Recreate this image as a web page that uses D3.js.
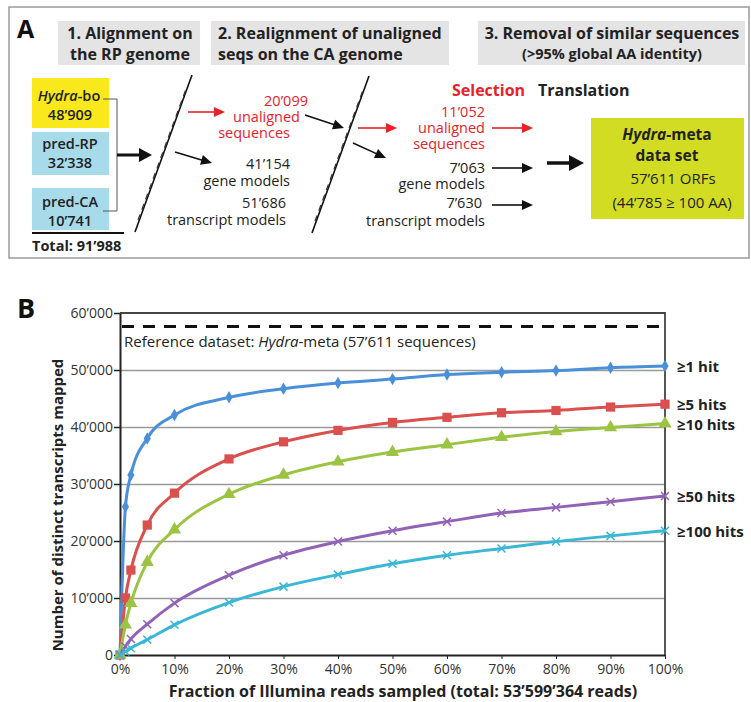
<!DOCTYPE html>
<html>
<head>
<meta charset="utf-8">
<script src="https://cdn.jsdelivr.net/npm/d3@7"></script>
<style>
body { margin: 0; background: #fff; }
svg { display: block; font-family: "Open Sans", sans-serif; }
</style>
</head>
<body>
<script>
// ---- data for panel B ----
var fractions = [0, 1, 2, 5, 10, 20, 30, 40, 50, 60, 70, 80, 90, 100];
var hits1   = [0, 26000, 31600, 38000, 42100, 45200, 46700, 47700, 48400, 49200, 49600, 49900, 50400, 50700];
var hits5   = [0, 10000, 14900, 22800, 28400, 34400, 37400, 39400, 40800, 41700, 42500, 42900, 43500, 44000];
var hits10  = [0, 5300, 9100, 16300, 22000, 28200, 31600, 33900, 35600, 36900, 38200, 39200, 39900, 40600];
var hits50  = [0, 1500, 2800, 5400, 9100, 14000, 17500, 19900, 21800, 23400, 24900, 25900, 26900, 27900];
var hits100 = [0, 600, 1200, 2700, 5300, 9200, 12000, 14100, 16000, 17500, 18700, 19900, 20900, 21800];
var seriesNames = ["≥1 hit", "≥5 hits", "≥10 hits", "≥50 hits", "≥100 hits"];
var seriesValues = [hits1, hits5, hits10, hits50, hits100];
var seriesColors = ["#4a8fd9", "#d9504e", "#9cc443", "#9163b7", "#3ab7d6"];
var seriesSymbols = ["diamond", "square", "triangle", "x", "x"];
var yTicks = [0, 10000, 20000, 30000, 40000, 50000, 60000];
var xTicks = [0, 10, 20, 30, 40, 50, 60, 70, 80, 90, 100];
var referenceCount = 57611;

var width = 751, height = 702;
var svg = d3.select("body").append("svg")
    .attr("width", width)
    .attr("height", height);

function arrow(g, x1, y1, x2, y2, color, w, hl, hw) {
    var a = Math.atan2(y2 - y1, x2 - x1);
    var bx = x2 - hl * Math.cos(a), by = y2 - hl * Math.sin(a);
    g.append("line")
        .attr("x1", x1).attr("y1", y1).attr("x2", bx + Math.cos(a)).attr("y2", by + Math.sin(a))
        .attr("stroke", color).attr("stroke-width", w);
    g.append("path")
        .attr("d", "M" + x2 + "," + y2 +
            "L" + (bx + hw * Math.sin(a)) + "," + (by - hw * Math.cos(a)) +
            "L" + (bx - hw * Math.sin(a)) + "," + (by + hw * Math.cos(a)) + "Z")
        .attr("fill", color);
}

function label(g, x, y, txt, opts) {
    opts = opts || {};
    return g.append("text")
        .attr("x", x).attr("y", y)
        .attr("text-anchor", opts.anchor || "start")
        .attr("font-size", opts.size || 14.5)
        .attr("font-weight", opts.weight || "normal")
        .attr("fill", opts.color || "#222")
        .text(txt);
}

// ================= PANEL A =================
var A = svg.append("g");
A.append("rect").attr("x", 9).attr("y", 7).attr("width", 740).attr("height", 251)
    .attr("fill", "none").attr("stroke", "#9a9a9a").attr("stroke-width", 1.5);
label(A, 17, 38, "A", {size: 25, weight: "bold", color: "#111"});

// header boxes
A.append("rect").attr("x", 58).attr("y", 21).attr("width", 142).attr("height", 44).attr("fill", "#e4e4e4");
A.append("rect").attr("x", 211).attr("y", 21).attr("width", 238).attr("height", 44).attr("fill", "#e4e4e4");
A.append("rect").attr("x", 478).attr("y", 21).attr("width", 267).attr("height", 44).attr("fill", "#e4e4e4");
label(A, 130, 39, "1. Alignment on", {anchor: "middle", weight: "bold", size: 16});
label(A, 130, 60, "the RP genome", {anchor: "middle", weight: "bold", size: 16});
label(A, 218, 39, "2. Realignment of unaligned", {weight: "bold", size: 16});
label(A, 218, 60, "seqs on the CA genome", {weight: "bold", size: 16});
label(A, 612, 39, "3. Removal of similar sequences", {anchor: "middle", weight: "bold", size: 16});
label(A, 612, 59, "(>95% global AA identity)", {anchor: "middle", weight: "bold", size: 14.5});

// input boxes
A.append("rect").attr("x", 32).attr("y", 78).attr("width", 77).attr("height", 50).attr("fill", "#f8e81c");
A.append("rect").attr("x", 32).attr("y", 132).attr("width", 77).attr("height", 43).attr("fill", "#a7dbea");
A.append("rect").attr("x", 32).attr("y", 188).attr("width", 77).attr("height", 42).attr("fill", "#a7dbea");
var hb = label(A, 69, 101, "", {anchor: "middle", weight: 600, size: 14.5});
hb.append("tspan").attr("font-style", "italic").text("Hydra");
hb.append("tspan").text("-bo");
label(A, 70, 120, "48’909", {anchor: "middle", weight: 600, size: 14.5});
label(A, 70, 149, "pred-RP", {anchor: "middle", weight: 600, size: 14.5});
label(A, 70, 168, "32’338", {anchor: "middle", weight: 600, size: 14.5});
label(A, 70, 207, "pred-CA", {anchor: "middle", weight: 600, size: 14.5});
label(A, 70, 226, "10’741", {anchor: "middle", weight: 600, size: 14.5});
A.append("path").attr("d", "M103,99H117V211H103")
    .attr("fill", "none").attr("stroke", "#555").attr("stroke-width", 1);
A.append("line").attr("x1", 32).attr("x2", 124).attr("y1", 233).attr("y2", 233)
    .attr("stroke", "#111").attr("stroke-width", 2);
label(A, 32, 251, "Total: 91’988", {weight: "bold", size: 14.5});
arrow(A, 117, 155, 152, 155, "#111", 3, 13, 7);

// genome lines
function genome(x1, y1, x2, y2) {
    A.append("line").attr("x1", x1).attr("y1", y1).attr("x2", x2).attr("y2", y2)
        .attr("stroke", "#111").attr("stroke-width", 1.6);
    A.append("line").attr("x1", x1 + 6).attr("y1", y1 - 12).attr("x2", x2 - 3).attr("y2", y2 + 14)
        .attr("transform", "translate(-3,0)")
        .attr("stroke", "#333").attr("stroke-width", 1.2).attr("stroke-dasharray", "6,5");
}
genome(135, 232, 192, 75);
genome(312, 233, 369, 76);

// step 1 outputs
arrow(A, 188, 112, 225, 112, "#e8212a", 1.6, 11, 5);
label(A, 308, 106, "20’099", {anchor: "end", color: "#e8212a"});
label(A, 300, 122, "unaligned", {anchor: "end", color: "#e8212a"});
label(A, 290, 138, "sequences", {anchor: "end", color: "#e8212a"});
arrow(A, 175, 152, 212, 163, "#111", 1.6, 11, 5);
label(A, 290, 169, "41’154", {anchor: "end"});
label(A, 290, 186, "gene models", {anchor: "end"});
label(A, 286, 208, "51’686", {anchor: "end"});
label(A, 286, 225, "transcript models", {anchor: "end"});
arrow(A, 305, 115, 344, 128, "#111", 1.6, 11, 5);

// step 2 outputs
arrow(A, 358, 128, 397, 128, "#e8212a", 1.6, 11, 5);
arrow(A, 353, 143, 386, 158, "#111", 1.6, 11, 5);
label(A, 452, 96, "Selection", {weight: "bold", color: "#e8212a", size: 16});
label(A, 538, 96, "Translation", {weight: "bold", size: 16});
label(A, 485, 117, "11’052", {anchor: "end", color: "#e8212a"});
label(A, 485, 133, "unaligned", {anchor: "end", color: "#e8212a"});
label(A, 485, 149, "sequences", {anchor: "end", color: "#e8212a"});
label(A, 485, 173, "7’063", {anchor: "end"});
label(A, 485, 189, "gene models", {anchor: "end"});
label(A, 482, 208, "7’630", {anchor: "end"});
label(A, 485, 226, "transcript models", {anchor: "end"});
arrow(A, 492, 128, 533, 128, "#e8212a", 1.6, 11, 5);
arrow(A, 492, 168, 533, 168, "#111", 1.6, 11, 5);
arrow(A, 492, 205, 533, 205, "#111", 1.6, 11, 5);
arrow(A, 547, 163, 584, 163, "#111", 3.5, 15, 8);

// final data set
A.append("rect").attr("x", 591).attr("y", 118).attr("width", 153).attr("height", 101).attr("fill", "#d2dc22");
var hm = label(A, 667, 140, "", {anchor: "middle", weight: "bold", size: 15.5});
hm.append("tspan").attr("font-style", "italic").text("Hydra");
hm.append("tspan").text("-meta");
label(A, 667, 161, "data set", {anchor: "middle", weight: "bold", size: 15.5});
label(A, 673, 184, "57’611 ORFs", {anchor: "middle", size: 15});
label(A, 672, 208, "(44’785  ≥ 100 AA)", {anchor: "middle", size: 15});

// ================= PANEL B =================
var B = svg.append("g");
var x = d3.scaleLinear().domain([0, 100]).range([120, 665]);
var y = d3.scaleLinear().domain([0, 60000]).range([655, 313]);
var fmt = function (v) { return d3.format(",")(v).replace(/,/g, "’"); };

label(B, 17, 318, "B", {size: 27, weight: "bold", color: "#111"});

// gridlines
B.append("g")
    .attr("transform", "translate(120,0)")
    .call(d3.axisLeft(y).tickValues(yTicks.slice(1, -1)).tickSize(-545).tickFormat(""))
    .call(function (g) {
        g.select(".domain").remove();
        g.selectAll("line").attr("stroke", "#9a9a9a").attr("stroke-width", 1.5);
    });

// frame
B.append("path").attr("d", "M120," + y(60000) + "H665V655")
    .attr("fill", "none").attr("stroke", "#444").attr("stroke-width", 1.8);

// y axis
B.append("g")
    .attr("transform", "translate(120,0)")
    .call(d3.axisLeft(y).tickValues(yTicks).tickFormat(fmt).tickSize(6).tickSizeOuter(0).tickPadding(1))
    .call(function (g) {
        g.select(".domain").attr("stroke", "#222").attr("stroke-width", 2);
        g.selectAll("line").attr("stroke", "#222").attr("stroke-width", 1.5);
        g.selectAll("text").attr("font-size", 14).attr("fill", "#333")
            .attr("font-family", "Open Sans, sans-serif");
    });

// x axis
B.append("g")
    .attr("transform", "translate(0,655)")
    .call(d3.axisBottom(x).tickValues(xTicks).tickFormat(function (d) { return d + "%"; })
        .tickSize(4).tickSizeOuter(0).tickPadding(5))
    .call(function (g) {
        g.select(".domain").attr("stroke", "#222").attr("stroke-width", 2);
        g.selectAll("line").attr("stroke", "#222");
        g.selectAll("text").attr("font-size", 14).attr("fill", "#333")
            .attr("font-family", "Open Sans, sans-serif");
    });

// axis titles
label(B, 403, 697, "Fraction of Illumina reads sampled (total: 53’599’364 reads)",
    {anchor: "middle", weight: "bold", size: 16});
label(B, 0, 0, "Number of distinct transcripts mapped", {anchor: "middle", weight: "bold", size: 15})
    .attr("transform", "translate(63,505) rotate(-90)");

// reference line
B.append("line").attr("x1", 122).attr("x2", 665)
    .attr("y1", y(referenceCount)).attr("y2", y(referenceCount))
    .attr("stroke", "#111").attr("stroke-width", 3).attr("stroke-dasharray", "12,9");
var rt = label(B, 124, 347, "Reference dataset: ", {size: 15});
rt.append("tspan").attr("font-style", "italic").text("Hydra");
rt.append("tspan").text("-meta (57’611 sequences)");

// series
var line = d3.line()
    .x(function (d, i) { return x(fractions[i]); })
    .y(function (d) { return y(d); })
    .curve(d3.curveMonotoneX);

seriesValues.forEach(function (vals, s) {
    var col = seriesColors[s];
    var g = B.append("g");
    g.append("path").datum(vals).attr("d", line)
        .attr("fill", "none").attr("stroke", col).attr("stroke-width", 3);

    var pts = g.selectAll(".pt").data(vals).enter().append("g")
        .attr("transform", function (d, i) { return "translate(" + x(fractions[i]) + "," + y(d) + ")"; });
    var sym = seriesSymbols[s];
    if (sym === "x") {
        pts.append("path").attr("d", "M-4,-4L4,4M-4,4L4,-4")
            .attr("stroke", col).attr("stroke-width", 1.5).attr("fill", "none");
    } else {
        var type = sym === "diamond" ? d3.symbolDiamond : sym === "square" ? d3.symbolSquare : d3.symbolTriangle;
        var size = sym === "diamond" ? 45 : sym === "square" ? 85 : 75;
        pts.append("path").attr("d", d3.symbol().type(type).size(size)).attr("fill", col);
    }

    label(B, 677, y(vals[vals.length - 1]), seriesNames[s], {weight: "bold", size: 15})
        .attr("dominant-baseline", "central");
});
</script>
</body>
</html>
